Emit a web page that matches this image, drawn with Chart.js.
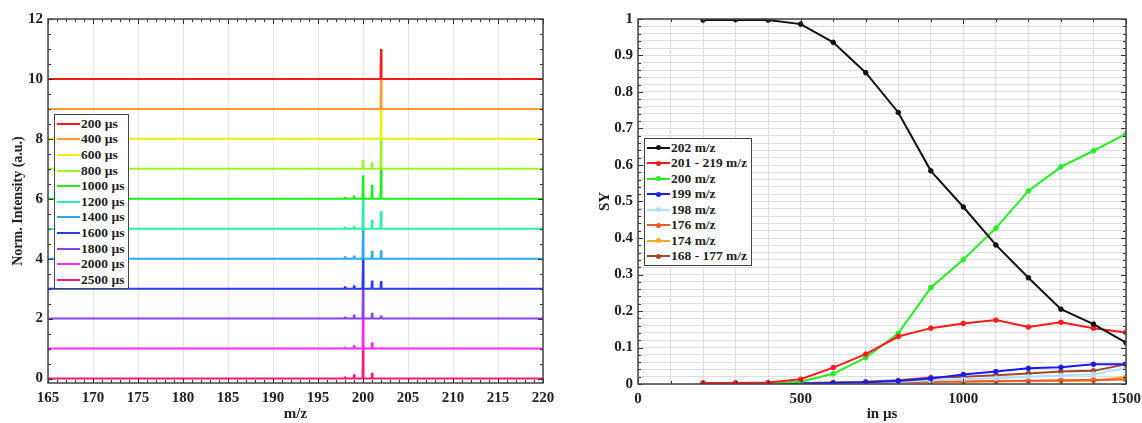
<!DOCTYPE html>
<html>
<head>
<meta charset="utf-8">
<script src="https://cdn.jsdelivr.net/npm/chart.js@4.4.0/dist/chart.umd.min.js"></script>
<style>
  body { margin: 0; background: #fff; }
  #wrap { position: relative; width: 1142px; height: 423px; overflow: hidden; }
  .pane { position: absolute; top: 0; height: 423px; }
  #leftPane { left: 0; width: 570px; }
  #rightPane { left: 570px; width: 572px; }
  .legend {
    position: absolute; background: #fff; border: 1.5px solid #444;
    font: bold 13.5px "Liberation Serif", "Times New Roman", serif; color: #222;
    box-sizing: border-box; padding-top: 1px;
  }
  #legLeft { left: 54px; top: 114px; width: 75px; height: 175px; }
  #legRight { left: 644px; top: 138px; width: 108px; height: 128px; }
  .row { display: flex; align-items: center; white-space: nowrap; }
  #legLeft .row { height: 15.6px; }
  #legRight .row { height: 15.5px; }
  .sw { position: relative; display: inline-block; width: 23px; height: 2px; margin: 0 1px 0 2px; }
  .sw i { position: absolute; left: 9px; top: -1.5px; width: 5px; height: 5px; border-radius: 50%; }
</style>
</head>
<body>
<div id="wrap">
  <div class="pane" id="leftPane"><canvas id="spectra"></canvas></div>
  <div class="pane" id="rightPane"><canvas id="yields"></canvas></div>
  <div class="legend" id="legLeft"></div>
  <div class="legend" id="legRight"></div>
</div>
<script>
// ---- left panel: normalised spectra, stacked by delay ----
const mzPeaks = [198, 199, 200, 201, 202];
const delays = ['200 µs', '400 µs', '600 µs', '800 µs', '1000 µs', '1200 µs',
                '1400 µs', '1600 µs', '1800 µs', '2000 µs', '2500 µs'];
const offsets = [10, 9, 8, 7, 6, 5, 4, 3, 2, 1, 0];
// peak heights at m/z 198, 199, 200, 201, 202 (normalised to the largest one)
const peakHeights = [
  [0, 0, 0, 0, 1],
  [0, 0, 0, 0, 1],
  [0, 0, 0.01, 0.01, 1],
  [0.01, 0.03, 0.3, 0.22, 1],
  [0.05, 0.1, 0.78, 0.46, 1],
  [0.05, 0.08, 1, 0.3, 0.58],
  [0.07, 0.1, 1, 0.25, 0.28],
  [0.07, 0.11, 1, 0.27, 0.25],
  [0.06, 0.13, 1, 0.19, 0.1],
  [0.05, 0.11, 1, 0.21, 0.03],
  [0.06, 0.14, 1, 0.19, 0.01]
];
const intensityTicks = [0, 2, 4, 6, 8, 10, 12];
const delayColors = ['#ff1a1a', '#ff9a2e', '#eef000', '#99f52a', '#1cf01c', '#2af0a8',
                     '#2aaaf5', '#2a3cf0', '#8a40f0', '#ff2af0', '#ff1a78'];

// ---- right panel: SY vs delay ----
const times = [200, 300, 400, 500, 600, 700, 800, 900, 1000, 1100, 1200, 1300, 1400, 1500];
const sy202 =     [0.997, 0.998, 0.997, 0.986, 0.936, 0.853, 0.744, 0.584, 0.485, 0.381, 0.291, 0.205, 0.164, 0.113];
const sy201_219 = [0.003, 0.003, 0.004, 0.013, 0.045, 0.082, 0.130, 0.153, 0.166, 0.175, 0.156, 0.169, 0.153, 0.141];
const sy200 =     [0.001, 0.001, 0.002, 0.006, 0.028, 0.072, 0.139, 0.264, 0.341, 0.427, 0.529, 0.595, 0.639, 0.685];
const sy199 =     [0.001, 0.001, 0.001, 0.002, 0.003, 0.005, 0.008, 0.015, 0.026, 0.034, 0.043, 0.046, 0.054, 0.054];
const sy198 =     [0.000, 0.000, 0.000, 0.001, 0.002, 0.004, 0.006, 0.010, 0.013, 0.016, 0.020, 0.023, 0.027, 0.044];
const sy176 =     [0.001, 0.001, 0.001, 0.002, 0.003, 0.004, 0.005, 0.006, 0.007, 0.008, 0.009, 0.010, 0.011, 0.012];
const sy174 =     [0.000, 0.000, 0.000, 0.001, 0.002, 0.003, 0.004, 0.005, 0.006, 0.007, 0.008, 0.008, 0.009, 0.019];
const sy168_177 = [0.002, 0.002, 0.002, 0.003, 0.004, 0.006, 0.010, 0.018, 0.020, 0.024, 0.029, 0.034, 0.036, 0.054];
const syLabels = ['202 m/z', '201 - 219 m/z', '200 m/z', '199 m/z', '198 m/z', '176 m/z', '174 m/z', '168 - 177 m/z'];
const syColors = ['#111111', '#ff1a1a', '#22ee22', '#1a1aff', '#b0e0ff', '#ee5a2a', '#f5a81e', '#a0452a'];

Chart.defaults.font.family = '"Liberation Serif", "Times New Roman", serif';
Chart.defaults.font.weight = 'bold';
Chart.defaults.font.size = 15;
Chart.defaults.color = '#222';
Chart.defaults.animation = false;

// box around the plot plus MATLAB-style inward ticks
const framePlugin = {
  id: 'frame',
  afterDatasetsDraw(chart, args, o) {
    const { ctx, chartArea: a, scales: { x, y } } = chart;
    ctx.save();
    ctx.strokeStyle = '#333';
    ctx.lineWidth = 1;
    ctx.beginPath();
    for (let v = x.min; v <= x.max + 1e-9; v += o.xMinor) {
      const px = Math.round(x.getPixelForValue(v)) + 0.5;
      const len = Math.abs(v / o.xMajor - Math.round(v / o.xMajor)) < 1e-6 ? 5 : 3;
      ctx.moveTo(px, a.bottom); ctx.lineTo(px, a.bottom - len);
      ctx.moveTo(px, a.top); ctx.lineTo(px, a.top + len);
    }
    const y0 = Math.ceil(y.min / o.yMinor - 1e-9) * o.yMinor;
    for (let v = y0; v <= y.max + 1e-9; v += o.yMinor) {
      const py = Math.round(y.getPixelForValue(v)) + 0.5;
      const len = Math.abs(v / o.yMajor - Math.round(v / o.yMajor)) < 1e-6 ? 5 : 3;
      ctx.moveTo(a.left, py); ctx.lineTo(a.left + len, py);
      ctx.moveTo(a.right, py); ctx.lineTo(a.right - len, py);
    }
    ctx.stroke();
    ctx.lineWidth = 1.5;
    ctx.strokeStyle = '#444';
    ctx.strokeRect(a.left, a.top, a.right - a.left, a.bottom - a.top);
    ctx.restore();
  }
};

const spectraSets = delays.map((lab, i) => {
  const off = offsets[i];
  const pts = [{ x: 165, y: off }];
  mzPeaks.forEach((m, j) => {
    const h = peakHeights[i][j];
    if (h > 0) pts.push({ x: m - 0.06, y: off }, { x: m, y: off + h }, { x: m + 0.06, y: off });
  });
  pts.push({ x: 220, y: off });
  return { label: lab, data: pts, borderColor: delayColors[i], backgroundColor: delayColors[i],
           borderWidth: 2, borderJoinStyle: 'bevel', pointRadius: 0, tension: 0 };
});

const noSidePad = s => { s.paddingLeft = 0; s.paddingRight = 0; };

const spectra = new Chart(document.getElementById('spectra'), {
  type: 'line',
  data: { datasets: spectraSets },
  options: {
    responsive: true, maintainAspectRatio: false,
    layout: { padding: { left: 0, right: 27, top: 19, bottom: 0 } },
    plugins: { legend: { display: false }, tooltip: { enabled: false },
               frame: { xMinor: 1, xMajor: 5, yMinor: 0.5, yMajor: 2 } },
    scales: {
      x: {
        type: 'linear', min: 165, max: 220,
        ticks: { stepSize: 5, padding: 6, maxRotation: 0, autoSkip: false },
        grid: { color: '#e4e4e4', drawTicks: false },
        border: { display: false },
        title: { display: true, text: 'm/z', font: { size: 15 }, padding: { top: 0, bottom: 0 } },
        afterFit: s => { s.height = 40; noSidePad(s); }
      },
      y: {
        min: -0.15, max: 12,
        afterBuildTicks: s => { s.ticks = intensityTicks.map(v => ({ value: v })); },
        ticks: { padding: 5 },
        grid: { color: '#e4e4e4', drawTicks: false },
        border: { display: false },
        title: { display: true, text: 'Norm. Intensity (a.u.)', font: { size: 14 }, padding: { top: 10, bottom: 0 } },
        afterFit: s => { s.width = 48; }
      }
    }
  },
  plugins: [framePlugin]
});

const sySeries = [sy202, sy201_219, sy200, sy199, sy198, sy176, sy174, sy168_177];
const yields = new Chart(document.getElementById('yields'), {
  type: 'line',
  data: {
    labels: times,
    datasets: sySeries.map((vals, i) => ({
      label: syLabels[i],
      data: vals.map((v, k) => ({ x: times[k], y: v })),
      borderColor: syColors[i], backgroundColor: syColors[i],
      borderWidth: 2, pointRadius: 2.3, pointBorderWidth: 1, tension: 0
    }))
  },
  options: {
    responsive: true, maintainAspectRatio: false,
    layout: { padding: { left: 0, right: 16, top: 19, bottom: 0 } },
    plugins: { legend: { display: false }, tooltip: { enabled: false },
               frame: { xMinor: 100, xMajor: 500, yMinor: 0.02, yMajor: 0.1 } },
    scales: {
      x: {
        type: 'linear', min: 0, max: 1500,
        ticks: { stepSize: 100, padding: 6, maxRotation: 0, autoSkip: false,
                 callback: v => (v % 500 === 0 ? String(v) : '') },
        grid: { color: '#dedede', drawTicks: false },
        border: { display: false },
        title: { display: true, text: 'in µs', font: { size: 15 }, padding: { top: 0, bottom: 0 } },
        afterFit: s => { s.height = 39; noSidePad(s); }
      },
      y: {
        min: 0, max: 1,
        ticks: { stepSize: 0.02, padding: 5, autoSkip: false,
                 callback: v => { const r = Math.round(v * 100); return r % 10 ? '' : String(r / 100); } },
        grid: { color: '#dedede', drawTicks: false },
        border: { display: false },
        title: { display: true, text: 'SY', font: { size: 15 }, padding: { top: 26, bottom: 0 } },
        afterFit: s => { s.width = 68; }
      }
    }
  },
  plugins: [framePlugin]
});

function buildLegend(el, chart, dots) {
  chart.data.datasets.forEach(ds => {
    const row = document.createElement('div');
    row.className = 'row';
    const sw = document.createElement('span');
    sw.className = 'sw';
    sw.style.background = ds.borderColor;
    if (dots) {
      const d = document.createElement('i');
      d.style.background = ds.borderColor;
      sw.appendChild(d);
    }
    const t = document.createElement('span');
    t.textContent = ds.label;
    row.append(sw, t);
    el.appendChild(row);
  });
}
buildLegend(document.getElementById('legLeft'), spectra, false);
buildLegend(document.getElementById('legRight'), yields, true);
</script>
</body>
</html>
